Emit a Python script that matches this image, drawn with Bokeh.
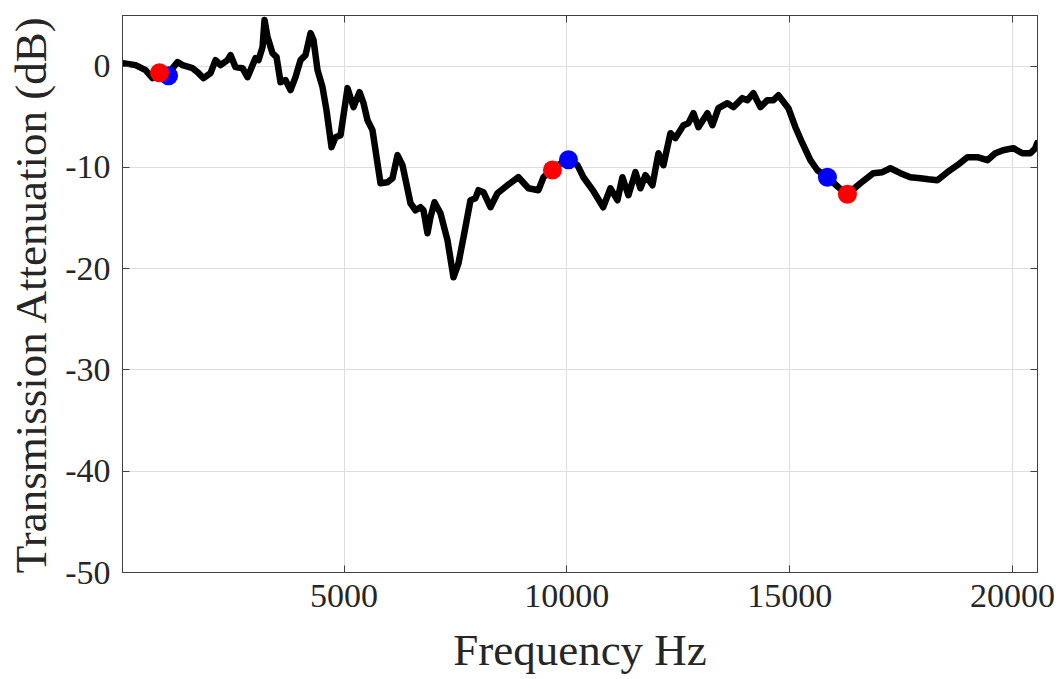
from bokeh.plotting import figure
from bokeh.models import Range1d, LinearAxis, FixedTicker, PrintfTickFormatter, CustomJSTickFormatter
from bokeh.embed import file_html
from bokeh.resources import INLINE

# ---- data ----
freq_hz = [40, 323, 547, 704, 839, 1063, 1265, 1377, 1602, 1736, 1848, 2005, 2118, 2230, 2387, 2454,
           2566, 2723, 2835, 2948, 3015, 3082, 3172, 3217, 3284, 3396, 3486, 3576, 3688, 3800, 3912,
           4024, 4137, 4249, 4316, 4406, 4518, 4607, 4720, 4809, 4922, 5079, 5213, 5348, 5438, 5527,
           5639, 5819, 5976, 6088, 6200, 6312, 6492, 6604, 6716, 6783, 6873, 6940, 7030, 7165, 7322,
           7456, 7568, 7681, 7838, 7950, 8017, 8129, 8286, 8443, 8668, 8914, 9139, 9363, 9476, 9677,
           10036, 10238, 10372, 10597, 10816, 10978, 11135, 11247, 11381, 11539, 11651, 11763, 11920,
           12055, 12167, 12324, 12436, 12616, 12728, 12840, 12952, 13154, 13266, 13401, 13603, 13737,
           13939, 14051, 14186, 14343, 14500, 14635, 14747, 14971, 15128, 15285, 15464, 15622, 15846,
           16093, 16295, 16586, 16878, 17080, 17259, 17484, 17707, 17932, 18111, 18313, 18538, 18762,
           18986, 19210, 19435, 19613, 19789, 20019, 20220, 20399, 20512, 20551]
attenuation_db = [0.30, 0.10, -0.40, -1.19, -0.89, -0.69, 0.40, 0.10, -0.20, -0.69, -1.19, -0.69, 0.59,
                  0.10, 0.59, 1.09, -0.10, -0.20, -1.09, 0.10, 0.79, 0.59, 1.88, 4.55, 2.87, 1.28, 0.89,
                  -1.58, -1.38, -2.37, -1.09, 0.59, 1.09, 3.26, 2.57, -0.40, -2.08, -4.35, -8.00, -7.02,
                  -6.82, -2.17, -4.05, -2.57, -3.66, -5.34, -6.32, -11.56, -11.46, -11.07, -8.79, -9.78,
                  -13.54, -14.23, -13.93, -14.23, -16.50, -14.92, -13.44, -14.53, -17.19, -20.85, -19.47,
                  -16.90, -13.24, -13.04, -12.25, -12.45, -13.93, -12.55, -11.76, -10.97, -12.06, -12.25,
                  -10.97, -10.08, -9.19, -9.78, -10.97, -12.35, -13.93, -12.06, -13.24, -10.97, -12.75,
                  -10.47, -12.06, -10.77, -11.76, -8.60, -9.78, -6.62, -7.11, -5.83, -5.63, -4.64, -6.03,
                  -4.64, -5.83, -4.15, -3.66, -4.05, -3.16, -3.36, -2.67, -4.05, -3.36, -3.36, -2.87,
                  -4.15, -6.03, -7.61, -9.29, -10.28, -10.97, -11.96, -12.65, -11.56, -10.57, -10.47,
                  -10.08, -10.57, -10.97, -11.07, -11.17, -11.26, -10.47, -9.78, -8.99, -8.99, -9.29,
                  -8.60, -8.30, -8.10, -8.60, -8.60, -8.10, -7.61]

red_freq = [861, 9677, 16295]
red_db = [-0.65, -10.25, -12.65]
blue_freq = [1063, 10036, 15846]
blue_db = [-0.95, -9.25, -10.97]

x_ticks = [5000, 10000, 15000, 20000]
y_ticks = [0, -10, -20, -30, -40, -50]

FONT = "Liberation Serif"
TXT = "#262626"

p = figure(width=1060, height=679, output_backend="svg", toolbar_location=None,
           x_range=Range1d(30, 20560), y_range=Range1d(-50, 5),
           min_border_left=122, min_border_right=23, min_border_top=15, min_border_bottom=107)
p.background_fill_color = "white"
p.border_fill_color = "white"
p.outline_line_color = "#404040"
p.outline_line_width = 1

p.xaxis.ticker = FixedTicker(ticks=x_ticks)
p.yaxis.ticker = FixedTicker(ticks=y_ticks)
p.xaxis.formatter = PrintfTickFormatter(format="%d")
p.yaxis.formatter = PrintfTickFormatter(format="%d")
p.xgrid.ticker = FixedTicker(ticks=x_ticks)
p.ygrid.ticker = FixedTicker(ticks=y_ticks)
p.grid.grid_line_color = "#dedede"
p.grid.grid_line_width = 1

for ax in (p.xaxis[0], p.yaxis[0]):
    ax.axis_line_color = "#404040"
    ax.major_tick_in = 7
    ax.major_tick_out = 0
    ax.major_tick_line_color = "#404040"
    ax.minor_tick_line_color = None
    ax.major_label_text_font = FONT
    ax.major_label_text_font_size = "34px"
    ax.major_label_text_color = TXT
    ax.axis_label_text_font = FONT
    ax.axis_label_text_font_size = "45px"
    ax.axis_label_text_font_style = "normal"
    ax.axis_label_text_color = TXT

p.xaxis.axis_label = "Frequency Hz"
p.yaxis.axis_label = "Transmission Attenuation (dB)"
p.xaxis.major_label_standoff = 12
p.yaxis.major_label_standoff = 12
p.xaxis.axis_label_standoff = 15
p.yaxis.axis_label_standoff = 6

blank = CustomJSTickFormatter(code="return ''")
top = LinearAxis(ticker=FixedTicker(ticks=x_ticks), formatter=blank,
                 major_tick_in=7, major_tick_out=0, minor_tick_line_color=None,
                 axis_line_color="#404040", major_tick_line_color="#404040", major_label_standoff=0)
right = LinearAxis(ticker=FixedTicker(ticks=y_ticks), formatter=blank,
                   major_tick_in=7, major_tick_out=0, minor_tick_line_color=None,
                   axis_line_color="#404040", major_tick_line_color="#404040", major_label_standoff=0)
p.add_layout(top, "above")
p.add_layout(right, "right")

p.line(freq_hz, attenuation_db, line_color="black", line_width=6.5, line_join="round", line_cap="round")
p.scatter(blue_freq[:1], blue_db[:1], size=19, fill_color="#0000ff", line_color=None)
p.scatter(red_freq, red_db, size=19, fill_color="#ff0000", line_color=None)
p.scatter(blue_freq[1:], blue_db[1:], size=19, fill_color="#0000ff", line_color=None)

open("out.html", "w").write(file_html(p, INLINE))
